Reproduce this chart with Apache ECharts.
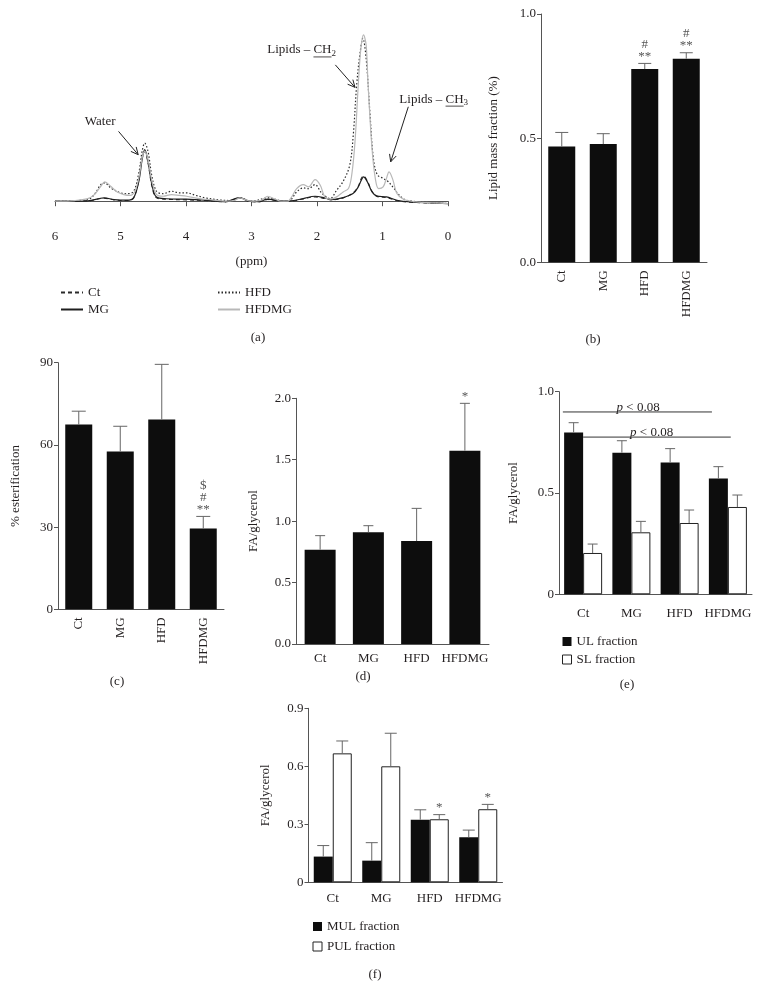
<!DOCTYPE html>
<html lang="en">
<head>
<meta charset="UTF-8">
</head>
<body style="margin: 0; background: #fff">
<div id="container" style="width: 760px; height: 997px"></div>
<script src="https://cdn.jsdelivr.net/npm/echarts@6/dist/echarts.min.js"></script>
<script>
var FONT = 'Liberation Serif';
var INK = '#231f20';
var AXIS = '#555';
var ERR = '#666';
var BAR = '#0d0d0d';

// (a) 1H spectra, [ppm, intensity]
var spectrumCt = [[6.0,0],[5.5,0.002],[5.25,0.018],[5.1,0.008],[4.9,0.004],[4.8,0.02],[4.72,0.13],[4.67,0.26],[4.63,0.30],[4.58,0.23],[4.52,0.09],[4.45,0.02],[4.3,0.012],[4.0,0.008],[3.7,0.004],[3.4,-0.004],[3.18,0.02],[3.05,0],[2.9,-0.004],[2.75,0.01],[2.6,0.002],[2.41,0],[2.21,0.014],[2.03,0.026],[1.88,0.016],[1.78,0.008],[1.6,0.02],[1.45,0.05],[1.37,0.09],[1.32,0.14],[1.29,0.152],[1.23,0.12],[1.16,0.06],[1.09,0.03],[0.94,0.022],[0.78,0.004],[0.58,-0.006],[0,-0.014]];
var spectrumMG = [[6.0,0],[5.5,0.002],[5.25,0.02],[5.1,0.01],[4.9,0.006],[4.8,0.02],[4.72,0.12],[4.67,0.25],[4.63,0.31],[4.58,0.24],[4.52,0.1],[4.45,0.025],[4.3,0.015],[4.0,0.012],[3.7,0.006],[3.4,-0.002],[3.18,0.022],[3.05,0.002],[2.9,-0.002],[2.75,0.012],[2.6,0.004],[2.41,0.002],[2.21,0.016],[2.03,0.03],[1.88,0.02],[1.78,0.01],[1.6,0.022],[1.45,0.046],[1.37,0.086],[1.32,0.13],[1.29,0.146],[1.23,0.116],[1.16,0.056],[1.09,0.032],[0.94,0.026],[0.78,0.006],[0.58,-0.004],[0,-0.014]];
var spectrumHFD = [[6.0,0],[5.5,0.01],[5.4,0.04],[5.3,0.1],[5.24,0.11],[5.15,0.08],[5.0,0.05],[4.9,0.045],[4.8,0.06],[4.72,0.17],[4.67,0.30],[4.63,0.35],[4.58,0.30],[4.52,0.15],[4.45,0.06],[4.35,0.045],[4.22,0.06],[4.1,0.05],[3.99,0.05],[3.85,0.035],[3.7,0.02],[3.5,0.008],[3.3,0.004],[3.18,0.02],[3.0,0],[2.75,0.02],[2.5,0],[2.41,0.006],[2.31,0.056],[2.21,0.08],[2.13,0.075],[2.03,0.1],[1.93,0.05],[1.8,0.016],[1.7,0.066],[1.6,0.12],[1.5,0.217],[1.446,0.40],[1.394,0.70],[1.34,0.90],[1.3,0.98],[1.25,0.86],[1.19,0.52],[1.14,0.26],[1.08,0.16],[0.99,0.137],[0.92,0.12],[0.83,0.08],[0.73,0.03],[0.63,0.006],[0.3,-0.008],[0,-0.014]];
var spectrumHFDMG = [[6.0,0],[5.7,0.004],[5.5,0.016],[5.4,0.04],[5.3,0.09],[5.24,0.116],[5.15,0.09],[5.05,0.055],[4.95,0.04],[4.85,0.035],[4.78,0.06],[4.72,0.14],[4.67,0.26],[4.63,0.30],[4.58,0.25],[4.52,0.12],[4.45,0.04],[4.35,0.03],[4.22,0.04],[4.1,0.035],[3.99,0.03],[3.8,0.016],[3.6,0.008],[3.4,0],[3.25,0.006],[3.18,0.02],[3.1,0.01],[3.0,0],[2.85,0.006],[2.75,0.03],[2.65,0.015],[2.55,0],[2.45,0],[2.38,0.03],[2.31,0.076],[2.21,0.10],[2.13,0.086],[2.03,0.13],[1.95,0.096],[1.88,0.026],[1.8,0.012],[1.7,0.026],[1.6,0.056],[1.52,0.076],[1.47,0.157],[1.42,0.357],[1.37,0.70],[1.33,0.92],[1.29,1.0],[1.25,0.94],[1.22,0.70],[1.16,0.317],[1.11,0.137],[1.06,0.076],[0.99,0.086],[0.94,0.137],[0.9,0.177],[0.84,0.127],[0.78,0.046],[0.68,0.012],[0.48,-0.004],[0.2,-0.01],[0,-0.014]];

// (a) peak annotations: arrow [fromPpm, fromVal, toPpm, toVal], label anchor in data units
var peakArrows = [[5.03,0.42,4.73,0.28],[1.72,0.82,1.42,0.685],[0.606,0.568,0.875,0.237]];
var peakLabels = [
  {ppm: 5.31, value: 0.478, text: 'Water', group: '', sub: ''},
  {ppm: 2.76, value: 0.91, text: 'Lipids – ', group: 'CH', sub: '2'},
  {ppm: 0.743, value: 0.614, text: 'Lipids – ', group: 'CH', sub: '3'}
];

var groups = ['Ct', 'MG', 'HFD', 'HFDMG'];

// (b) lipid mass fraction
var lipidMean = [0.466, 0.476, 0.778, 0.820];
var lipidSem = [0.057, 0.042, 0.023, 0.024];
var lipidNotes = ['', '', '#\n**', '#\n**'];

// (c) % esterification
var esterMean = [67.4, 57.6, 69.3, 29.5];
var esterSem = [4.9, 9.2, 20.1, 4.4];
var esterNotes = ['', '', '', '$\n#\n**'];

// (d) FA/glycerol
var faMean = [0.768, 0.909, 0.838, 1.574];
var faSem = [0.114, 0.054, 0.266, 0.385];
var faNotes = ['', '', '', '*'];

// (e) UL / SL fractions
var ulMean = [0.799, 0.699, 0.651, 0.571];
var ulSem = [0.048, 0.059, 0.068, 0.059];
var slMean = [0.204, 0.306, 0.352, 0.431];
var slSem = [0.044, 0.054, 0.064, 0.059];
// bracket: from / to in category units, height, label centre
var brackets = [
  {from: -0.42, to: 2.67, value: 0.9, at: 1.14},
  {from: 0, to: 3.06, value: 0.776, at: 1.42}
];

// (f) MUL / PUL fractions
var mulMean = [0.133, 0.112, 0.324, 0.233];
var mulSem = [0.057, 0.093, 0.051, 0.037];
var pulMean = [0.667, 0.600, 0.326, 0.378];
var pulSem = [0.064, 0.171, 0.024, 0.025];
var pulNotes = ['', '', '*', '*'];

var panelLabels = [['(a)', 258, 338], ['(b)', 593, 340], ['(c)', 117, 682], ['(d)', 363, 677], ['(e)', 627, 685], ['(f)', 375, 975]];

var measureCtx = document.createElement('canvas').getContext('2d');
measureCtx.font = '13px "' + FONT + '"';
function textW(s) { return measureCtx.measureText(s).width; }

var txt = {fontFamily: FONT, fontSize: 13, color: INK};

function catAxis(grid, rotate, margin) {
  return {
    type: 'category', gridIndex: grid, data: groups,
    axisLine: {lineStyle: {color: AXIS}},
    axisTick: {alignWithLabel: true, length: 4, lineStyle: {color: AXIS}},
    axisLabel: Object.assign({rotate: rotate, margin: margin, interval: 0}, txt)
  };
}
function valAxis(grid, max, interval, name, gap, fmt) {
  return {
    type: 'value', gridIndex: grid, min: 0, max: max, interval: interval,
    name: name, nameLocation: 'middle', nameGap: gap, nameRotate: 90, nameTextStyle: txt,
    axisLine: {show: true, lineStyle: {color: AXIS}},
    axisTick: {show: true, length: 4, lineStyle: {color: AXIS}},
    axisLabel: Object.assign({margin: 5, formatter: fmt}, txt),
    splitLine: {show: false}
  };
}
function oneDec(v) { return v.toFixed(1); }
function zeroOrDec(v) { return v === 0 ? '0' : v.toFixed(1); }

function errorBars(grid, means, sems, notes, shift, cap) {
  return {
    type: 'custom', xAxisIndex: grid, yAxisIndex: grid, silent: true, z: 3,
    data: means.map(function (m, i) { return [i, m, m + sems[i]]; }),
    encode: {x: 0, y: [1, 2]},
    renderItem: function (params, api) {
      var i = params.dataIndex;
      var base = api.coord([api.value(0), api.value(1)]);
      var top = api.coord([api.value(0), api.value(2)]);
      var x = base[0] + shift;
      var kids = [
        {type: 'line', shape: {x1: x, y1: base[1], x2: x, y2: top[1]}, style: {stroke: ERR, lineWidth: 1}},
        {type: 'line', shape: {x1: x - cap / 2, y1: top[1], x2: x + cap / 2, y2: top[1]}, style: {stroke: ERR, lineWidth: 1}}
      ];
      if (notes && notes[i]) {
        kids.push({type: 'text', x: x, y: top[1] - 1, style: {
          text: notes[i], fill: '#555', fontFamily: FONT, fontSize: 13, lineHeight: 12,
          align: 'center', verticalAlign: 'bottom'
        }});
      }
      return {type: 'group', children: kids};
    }
  };
}

function specLine(name, data, color, type, width) {
  return {
    name: name, type: 'line', xAxisIndex: 0, yAxisIndex: 0, data: data,
    symbol: 'none', smooth: 0.35, silent: true,
    lineStyle: {color: color, type: type, width: width},
    itemStyle: {color: color}
  };
}

// legend for the spectra shows only the line sample
var lineLegend = {
  orient: 'vertical', top: 281, itemWidth: 22, itemHeight: 14, itemGap: 4, textStyle: txt,
  itemStyle: {color: 'rgba(0,0,0,0)', borderColor: 'rgba(0,0,0,0)', borderWidth: 0, opacity: 0}
};

var option = {
  animation: false,
  backgroundColor: '#fff',
  grid: [
    {left: 55, top: 20, width: 393, height: 202},
    {left: 541, top: 14, width: 166, height: 248.3},
    {left: 58, top: 362.7, width: 166, height: 246.6},
    {left: 296, top: 398.3, width: 193, height: 245.7},
    {left: 559, top: 391.7, width: 193, height: 202.6},
    {left: 308.5, top: 708.3, width: 194, height: 174}
  ],
  xAxis: [
    {
      type: 'value', gridIndex: 0, min: 0, max: 6, interval: 1, inverse: true,
      name: '(ppm)', nameLocation: 'middle', nameGap: 33, nameTextStyle: txt,
      axisLine: {lineStyle: {color: AXIS}},
      axisTick: {length: 5, lineStyle: {color: AXIS}},
      axisLabel: Object.assign({margin: 8, showMinLabel: true, showMaxLabel: true}, txt),
      splitLine: {show: false}
    },
    catAxis(1, 90, 8),
    catAxis(2, 90, 8),
    catAxis(3, 0, 8),
    catAxis(4, 0, 13),
    catAxis(5, 0, 10)
  ],
  yAxis: [
    {type: 'value', gridIndex: 0, min: -0.125, max: 1.09, show: false},
    valAxis(1, 1, 0.5, 'Lipid mass fraction (%)', 41, oneDec),
    valAxis(2, 90, 30, '% esterification', 36, null),
    valAxis(3, 2, 0.5, 'FA/glycerol', 36, oneDec),
    valAxis(4, 1, 0.5, 'FA/glycerol', 39, zeroOrDec),
    valAxis(5, 0.9, 0.3, 'FA/glycerol', 36, zeroOrDec)
  ],
  legend: [
    Object.assign({data: ['Ct', 'MG'], left: 55}, lineLegend),
    Object.assign({data: ['HFD', 'HFDMG'], left: 212}, lineLegend),
    {
      data: [
        {name: 'UL fraction', icon: 'rect', itemStyle: {color: BAR}},
        {name: 'SL fraction', icon: 'rect', itemStyle: {color: '#fff', borderColor: '#222', borderWidth: 1}}
      ],
      left: 557, top: 630, orient: 'vertical', itemWidth: 9, itemHeight: 9, itemGap: 5, textStyle: txt
    },
    {
      data: [
        {name: 'MUL fraction', icon: 'rect', itemStyle: {color: BAR}},
        {name: 'PUL fraction', icon: 'rect', itemStyle: {color: '#fff', borderColor: '#222', borderWidth: 1}}
      ],
      left: 307.5, top: 915, orient: 'vertical', itemWidth: 9, itemHeight: 9, itemGap: 7, textStyle: txt
    }
  ],
  graphic: panelLabels.map(function (p) {
    return {type: 'text', x: p[1], y: p[2], style: {text: p[0], fill: INK, fontFamily: FONT, fontSize: 13, align: 'center', verticalAlign: 'middle'}};
  }),
  series: [
    specLine('Ct', spectrumCt, '#2a2a2a', [4, 3], 1.1),
    specLine('MG', spectrumMG, '#1e1e1e', 'solid', 1.2),
    specLine('HFD', spectrumHFD, '#2a2a2a', [1.5, 2], 1.2),
    specLine('HFDMG', spectrumHFDMG, '#b8b8b8', 'solid', 1.2),
    {
      type: 'custom', xAxisIndex: 0, yAxisIndex: 0, silent: true, z: 5,
      data: peakArrows,
      encode: {x: [0, 2], y: [1, 3]},
      renderItem: function (params, api) {
        var a = api.coord([api.value(0), api.value(1)]);
        var b = api.coord([api.value(2), api.value(3)]);
        var ang = Math.atan2(b[1] - a[1], b[0] - a[0]);
        var L = 8, h = 0.45;
        var p1 = [b[0] - L * Math.cos(ang - h), b[1] - L * Math.sin(ang - h)];
        var p2 = [b[0] - L * Math.cos(ang + h), b[1] - L * Math.sin(ang + h)];
        return {type: 'group', children: [
          {type: 'line', shape: {x1: a[0], y1: a[1], x2: b[0], y2: b[1]}, style: {stroke: '#222', lineWidth: 1}},
          {type: 'polyline', shape: {points: [p1, b, p2]}, style: {stroke: '#222', lineWidth: 1, fill: null}}
        ]};
      }
    },
    {
      type: 'custom', xAxisIndex: 0, yAxisIndex: 0, silent: true, z: 5,
      data: peakLabels.map(function (l) { return [l.ppm, l.value]; }),
      encode: {x: 0, y: 1},
      renderItem: function (params, api) {
        var l = peakLabels[params.dataIndex];
        var p = api.coord([api.value(0), api.value(1)]);
        var st = {fill: INK, fontFamily: FONT, fontSize: 13, verticalAlign: 'middle'};
        if (!l.group) {
          return {type: 'text', x: p[0], y: p[1], style: Object.assign({text: l.text, align: 'center'}, st)};
        }
        var w1 = textW(l.text), w2 = textW(l.group);
        return {type: 'group', children: [
          {type: 'text', x: p[0], y: p[1], style: Object.assign({text: l.text + l.group, align: 'left'}, st)},
          {type: 'line', shape: {x1: p[0] + w1, y1: p[1] + 7, x2: p[0] + w1 + w2, y2: p[1] + 7}, style: {stroke: INK, lineWidth: 0.8}},
          {type: 'text', x: p[0] + w1 + w2, y: p[1] + 4, style: {text: l.sub, fill: INK, fontFamily: FONT, fontSize: 9, align: 'left', verticalAlign: 'middle'}}
        ]};
      }
    },

    // (b)
    {type: 'bar', xAxisIndex: 1, yAxisIndex: 1, data: lipidMean, barWidth: 27, itemStyle: {color: BAR}},
    errorBars(1, lipidMean, lipidSem, lipidNotes, 0, 13),

    // (c)
    {type: 'bar', xAxisIndex: 2, yAxisIndex: 2, data: esterMean, barWidth: 27, itemStyle: {color: BAR}},
    errorBars(2, esterMean, esterSem, esterNotes, 0, 14),

    // (d)
    {type: 'bar', xAxisIndex: 3, yAxisIndex: 3, data: faMean, barWidth: 31, itemStyle: {color: BAR}},
    errorBars(3, faMean, faSem, faNotes, 0, 10),

    // (e)
    {name: 'UL fraction', type: 'bar', xAxisIndex: 4, yAxisIndex: 4, data: ulMean, barWidth: 19, barGap: '0%', itemStyle: {color: BAR}},
    {name: 'SL fraction', type: 'bar', xAxisIndex: 4, yAxisIndex: 4, data: slMean, barWidth: 19, barGap: '0%', itemStyle: {color: '#fff', borderColor: '#222', borderWidth: 1}},
    errorBars(4, ulMean, ulSem, null, -9.5, 10),
    errorBars(4, slMean, slSem, null, 9.5, 10),
    {
      type: 'custom', xAxisIndex: 4, yAxisIndex: 4, silent: true, z: 4,
      data: brackets.map(function (b) { return [0, b.value]; }),
      encode: {x: 0, y: 1},
      renderItem: function (params, api) {
        var b = brackets[params.dataIndex];
        var p = api.coord([0, b.value]);
        var band = api.size([1, 0])[0];
        return {type: 'group', children: [
          {type: 'line', shape: {x1: p[0] + b.from * band, y1: p[1], x2: p[0] + b.to * band, y2: p[1]}, style: {stroke: '#333', lineWidth: 1}},
          {type: 'text', x: p[0] + b.at * band, y: p[1] + 2, style: {
            text: '{i|p} < 0.08', fill: INK, fontFamily: FONT, fontSize: 13, align: 'center', verticalAlign: 'bottom',
            rich: {i: {fontStyle: 'italic', fontFamily: FONT, fontSize: 13, fill: INK}}
          }}
        ]};
      }
    },

    // (f)
    {name: 'MUL fraction', type: 'bar', xAxisIndex: 5, yAxisIndex: 5, data: mulMean, barWidth: 19, barGap: '0%', itemStyle: {color: BAR}},
    {name: 'PUL fraction', type: 'bar', xAxisIndex: 5, yAxisIndex: 5, data: pulMean, barWidth: 19, barGap: '0%', itemStyle: {color: '#fff', borderColor: '#222', borderWidth: 1}},
    errorBars(5, mulMean, mulSem, null, -9.5, 12),
    errorBars(5, pulMean, pulSem, pulNotes, 9.5, 12)
  ]
};

var chart = echarts.init(document.getElementById('container'), null, {renderer: 'canvas'});
chart.setOption(option);
</script>
</body>
</html>
